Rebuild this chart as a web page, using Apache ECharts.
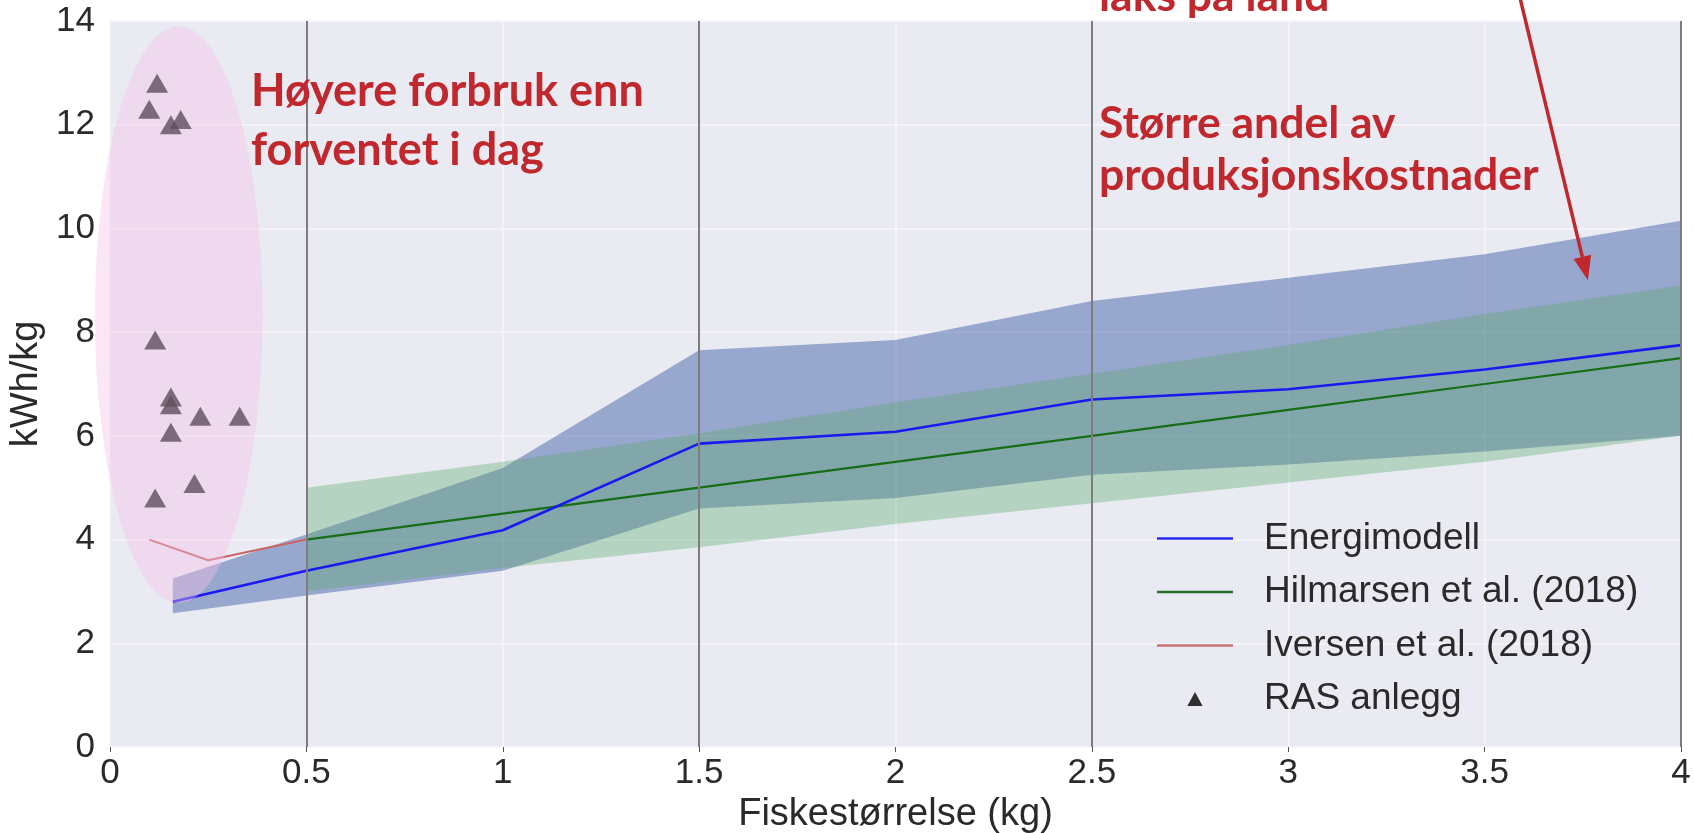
<!DOCTYPE html>
<html><head><meta charset="utf-8">
<script src="https://cdn.jsdelivr.net/npm/echarts@6/dist/echarts.min.js"></script>
<style>html,body{margin:0;padding:0;background:#fff;overflow:hidden}#c{width:1694px;height:833px}</style>
</head><body><div id="c"></div>
<script>
// ---- data ----
const energiX    = [0.16, 0.5, 1, 1.5, 2, 2.5, 3, 3.5, 4];
const energiMid  = [2.8, 3.4, 4.18, 5.85, 6.08, 6.7, 6.9, 7.28, 7.75];
const energiLow  = [2.58, 2.92, 3.4, 4.6, 4.8, 5.25, 5.45, 5.7, 6.0];
const energiHigh = [3.25, 4.1, 5.38, 7.65, 7.85, 8.6, 9.05, 9.5, 10.15];
const hilmX    = [0.5, 1, 1.5, 2, 2.5, 3, 3.5, 4];
const hilmMid  = [4.0, 4.5, 5.0, 5.5, 6.0, 6.5, 7.0, 7.5];
const hilmLow  = [3.0, 3.45, 3.85, 4.3, 4.7, 5.1, 5.5, 6.0];
const hilmHigh = [5.0, 5.5, 6.05, 6.65, 7.2, 7.75, 8.35, 8.9];
const iversenX = [0.1, 0.25, 0.5];
const iversenY = [4.0, 3.6, 4.0];
const rasX = [0.12, 0.10, 0.155, 0.18, 0.115, 0.155, 0.155, 0.23, 0.33, 0.155, 0.215, 0.115];
const rasY = [12.8, 12.3, 12.0, 12.1, 7.85, 6.75, 6.6, 6.38, 6.38, 6.07, 5.08, 4.8];
const markerLines = [0.5, 1.5, 2.5, 4];
const ellipseCenter = [0.175, 8.34];
const ellipseRadius = [0.2135, 5.56];
const arrowFrom = [3.59, 14.45];
const arrowTo = [3.763, 9.0];
const legendNames = ['Energimodell', 'Hilmarsen et al. (2018)', 'Iversen et al. (2018)', 'RAS anlegg'];

// ---- chart ----
const chart = echarts.init(document.getElementById('c'), null, {renderer: 'canvas'});
const zip = (xs, ys) => xs.map((x, i) => [x, ys[i]]);

function bandSeries(xs, lo, hi, fill, z) {
  return {
    type: 'custom', z: z, silent: true, data: [[xs[0], lo[0]]],
    renderItem: function (params, api) {
      const pts = [];
      for (let i = 0; i < xs.length; i++) pts.push(api.coord([xs[i], hi[i]]));
      for (let i = xs.length - 1; i >= 0; i--) pts.push(api.coord([xs[i], lo[i]]));
      return {type: 'polygon', shape: {points: pts}, style: {fill: fill}};
    }
  };
}

const axisFont = 'Liberation Sans';
const lineIcon = 'path://M0,0 H100 V3 H0 Z';
const triIcon = 'path://M6,0 L12,11 L0,11 Z';
const option = {
  animation: false,
  backgroundColor: '#ffffff',
  grid: {left: 110, right: 13, top: 21, bottom: 86, containLabel: false, outerBoundsMode: 'none',
         show: true, backgroundColor: '#e9eaf2', borderWidth: 0},
  xAxis: {
    type: 'value', min: 0, max: 4, interval: 0.5,
    name: 'Fiskestørrelse (kg)', nameLocation: 'middle', nameGap: 46,
    nameTextStyle: {fontFamily: axisFont, fontSize: 38, color: '#2a2a2a'},
    axisLine: {show: false},
    axisTick: {show: true, length: 5, lineStyle: {color: '#555', width: 1}},
    axisLabel: {fontFamily: axisFont, fontSize: 35, color: '#2a2a2a', margin: 9},
    splitLine: {show: true, lineStyle: {color: '#f7f7fa', width: 1.5}}
  },
  yAxis: {
    type: 'value', min: 0, max: 14, interval: 2,
    name: 'kWh/kg', nameLocation: 'middle', nameGap: 64,
    nameTextStyle: {fontFamily: axisFont, fontSize: 38, color: '#2a2a2a'},
    axisLine: {show: false}, axisTick: {show: false},
    axisLabel: {fontFamily: axisFont, fontSize: 35, color: '#2a2a2a', margin: 15},
    splitLine: {show: true, lineStyle: {color: '#f7f7fa', width: 1.5}}
  },
  legend: {
    data: [
      {name: legendNames[0], icon: lineIcon},
      {name: legendNames[1], icon: lineIcon},
      {name: legendNames[2], icon: lineIcon},
      {name: legendNames[3], icon: triIcon, itemStyle: {color: '#000000'}}
    ],
    orient: 'vertical', left: 1152, top: 515,
    itemWidth: 76, itemHeight: 14, itemGap: 16.5,
    textStyle: {fontFamily: axisFont, fontSize: 37, color: '#2a2a2a', padding: [0, 0, 0, 26]},
    selectedMode: false
  },
  series: [
    bandSeries(energiX, energiLow, energiHigh, 'rgba(72,100,170,0.5)', 1),
    bandSeries(hilmX, hilmLow, hilmHigh, 'rgba(85,168,104,0.35)', 2),
    {
      name: 'Energimodell', type: 'line', z: 4, symbol: 'none',
      data: zip(energiX, energiMid),
      lineStyle: {color: '#1a1af0', width: 2.6}, itemStyle: {color: '#2a2af0'}
    },
    {
      name: 'Hilmarsen et al. (2018)', type: 'line', z: 3, symbol: 'none',
      data: zip(hilmX, hilmMid),
      lineStyle: {color: '#176e17', width: 2.2}, itemStyle: {color: '#2a6a2a'},
      markLine: {
        silent: true, symbol: 'none', label: {show: false},
        lineStyle: {color: '#7d7d7d', width: 2, type: 'solid'},
        emphasis: {disabled: true},
        data: markerLines.map(v => ({xAxis: v}))
      }
    },
    {
      name: 'Iversen et al. (2018)', type: 'line', z: 3, symbol: 'none',
      data: zip(iversenX, iversenY),
      lineStyle: {color: '#c86464', width: 2}, itemStyle: {color: '#c87474'}
    },
    {
      name: 'RAS anlegg', type: 'scatter', z: 5, symbol: 'triangle', symbolSize: [22, 19],
      data: zip(rasX, rasY), itemStyle: {color: '#000000'}
    },
    {
      type: 'custom', z: 6, silent: true, clip: false, data: [ellipseCenter],
      renderItem: function (params, api) {
        const c = api.coord(ellipseCenter);
        const rx = api.size([ellipseRadius[0], 0])[0];
        const ry = api.size([0, ellipseRadius[1]])[1];
        return {type: 'circle', x: c[0], y: c[1], scaleX: rx / ry,
                shape: {cx: 0, cy: 0, r: ry}, style: {fill: 'rgba(246,192,232,0.4)'}};
      }
    }
  ]
};
chart.setOption(option);

// ---- annotations (slide overlay) ----
const red = '#c0282d';
const tip = chart.convertToPixel({xAxisIndex: 0, yAxisIndex: 0}, arrowTo);
const tail = chart.convertToPixel({xAxisIndex: 0, yAxisIndex: 0}, arrowFrom);
const dx = tip[0] - tail[0], dy = tip[1] - tail[1];
const L = Math.sqrt(dx * dx + dy * dy), ux = dx / L, uy = dy / L;
const headLen = 24, headHalf = 9;
const bx = tip[0] - ux * headLen, by = tip[1] - uy * headLen;
chart.setOption({
  graphic: [
    {type: 'text', x: 251, y: 62, z: 100,
     style: {text: 'Høyere forbruk enn\nforventet i dag', font: 'bold 45px Lato', fill: red, lineHeight: 59, verticalAlign: 'top'}},
    {type: 'text', x: 1099, y: 98, z: 100,
     style: {text: 'Større andel av\nproduksjonskostnader', font: 'bold 44.5px Lato', fill: red, lineHeight: 52, verticalAlign: 'top'}},
    {type: 'text', x: 1099, y: -30, z: 100,
     style: {text: 'laks på land', font: 'bold 44.5px Lato', fill: red, lineHeight: 54, verticalAlign: 'top'}},
    {type: 'line', z: 100, shape: {x1: tail[0], y1: tail[1], x2: bx, y2: by},
     style: {stroke: red, lineWidth: 3.5}},
    {type: 'polygon', z: 100,
     shape: {points: [[tip[0], tip[1]], [bx - uy * headHalf, by + ux * headHalf], [bx + uy * headHalf, by - ux * headHalf]]},
     style: {fill: red}}
  ]
});
</script></body></html>
